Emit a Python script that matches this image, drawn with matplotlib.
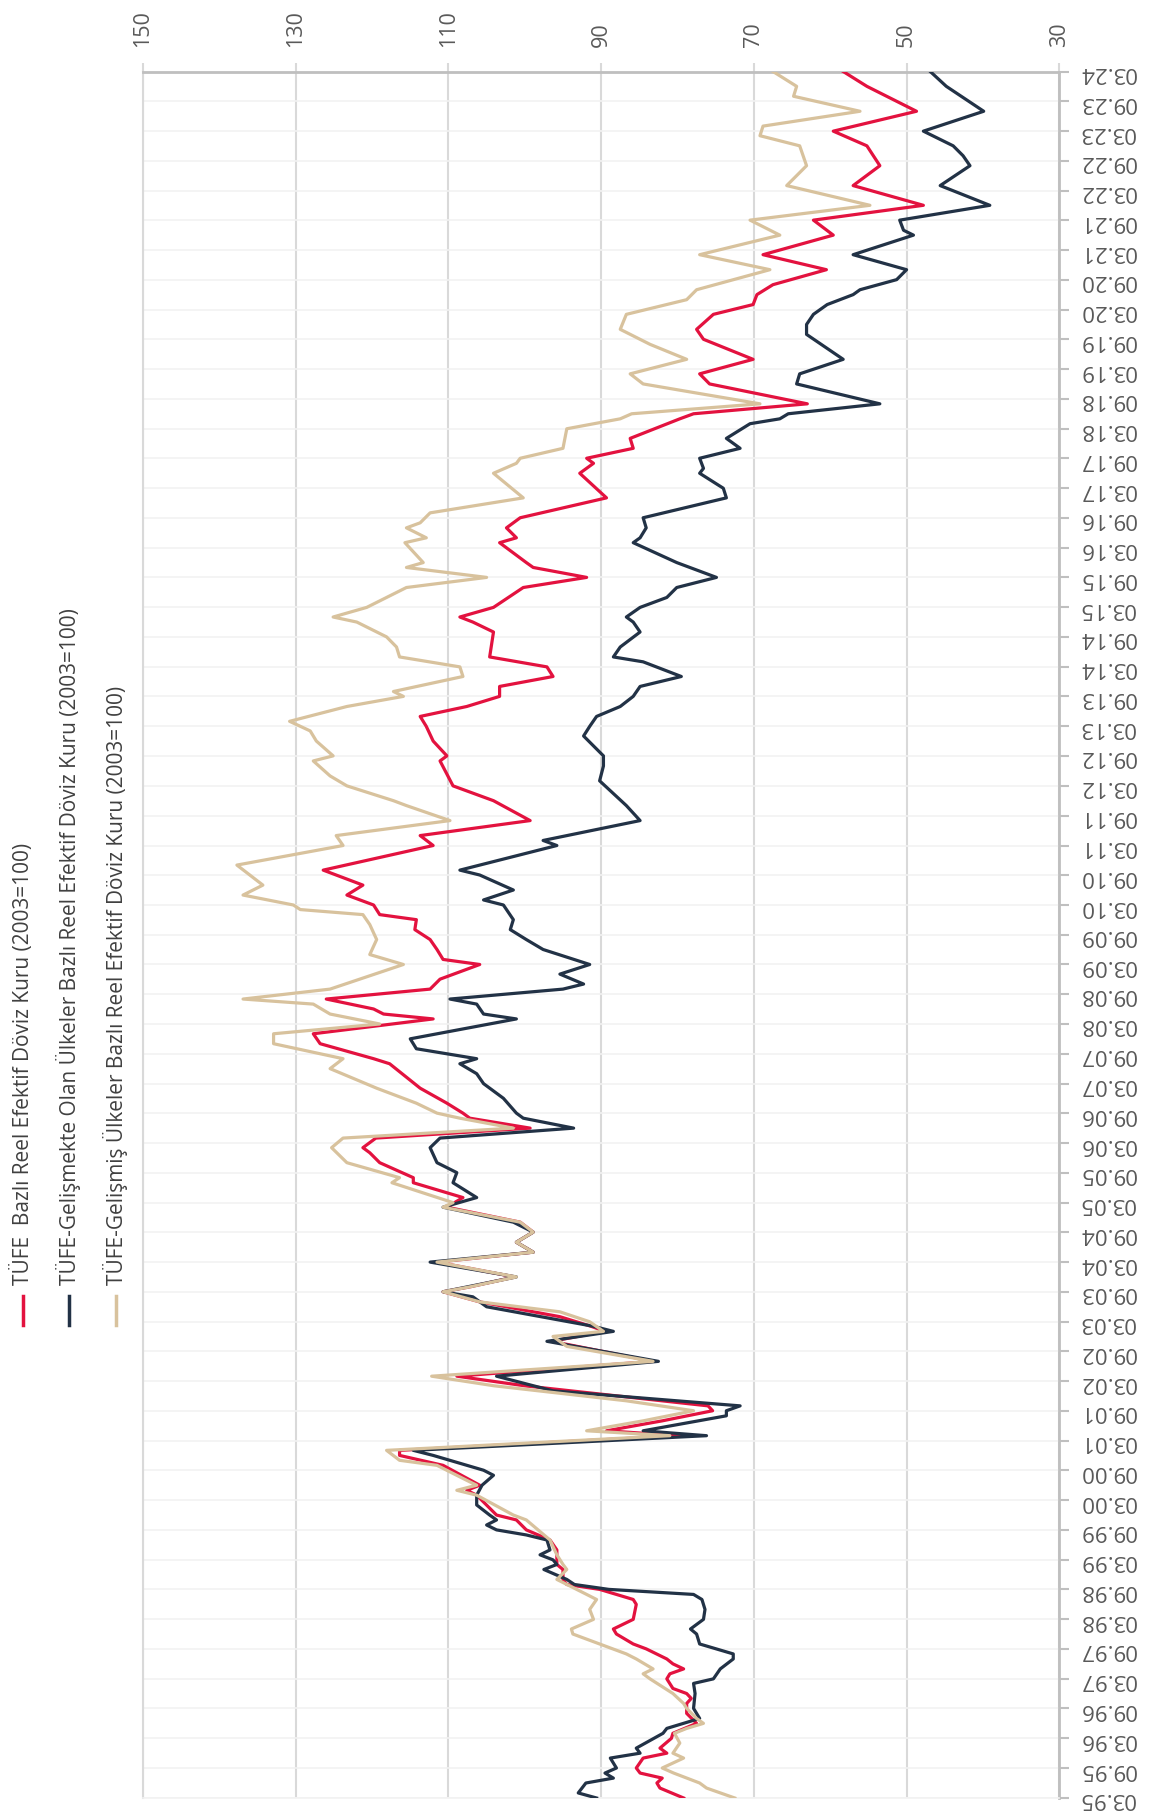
import matplotlib
matplotlib.use('Agg')
import matplotlib.pyplot as plt
from matplotlib.lines import Line2D
import pandas as pd

# Reel efektif döviz kuru endeksleri (2003=100)
tufe_dates = ['1995-03', '1995-05', '1995-06', '1995-07', '1995-08', '1995-09', '1995-11', '1995-12',
              '1996-01', '1996-03', '1996-04', '1996-06', '1996-08', '1996-10', '1996-11', '1996-12',
              '1997-01', '1997-03', '1997-04', '1997-05', '1997-06', '1997-07', '1997-09', '1997-10',
              '1997-12', '1998-01', '1998-03', '1998-06', '1998-07', '1998-09', '1998-10', '1998-11',
              '1999-01', '1999-02', '1999-05', '1999-07', '1999-09', '1999-11', '1999-12', '2000-04',
              '2000-05', '2000-06', '2000-10', '2000-12', '2001-01', '2001-04', '2001-05', '2001-07',
              '2001-09', '2001-10', '2002-02', '2002-04', '2002-07', '2002-11', '2003-01', '2003-02',
              '2003-04', '2003-07', '2003-09', '2003-10', '2003-12', '2004-03', '2004-05', '2004-07',
              '2004-09', '2004-11', '2005-02', '2005-04', '2005-07', '2005-08', '2005-11', '2006-01',
              '2006-02', '2006-04', '2006-06', '2006-08', '2006-09', '2006-11', '2007-02', '2007-07',
              '2007-08', '2007-11', '2008-01', '2008-04', '2008-05', '2008-06', '2008-08', '2008-10',
              '2008-12', '2009-03', '2009-04', '2009-06', '2009-08', '2009-10', '2009-12', '2010-01',
              '2010-03', '2010-05', '2010-07', '2010-10', '2011-03', '2011-05', '2011-08', '2011-12',
              '2012-03', '2012-08', '2012-09', '2012-12', '2013-03', '2013-05', '2013-07', '2013-09',
              '2013-11', '2014-01', '2014-03', '2014-05', '2014-10', '2014-12', '2015-01', '2015-03',
              '2015-07', '2015-09', '2015-11', '2015-12', '2016-04', '2016-05', '2016-07', '2016-08',
              '2016-09', '2017-01', '2017-06', '2017-08', '2017-09', '2017-11', '2018-01', '2018-05',
              '2018-06', '2018-08', '2018-12', '2019-02', '2019-05', '2019-09', '2019-11', '2020-02',
              '2020-04', '2020-06', '2020-08', '2020-11', '2021-02', '2021-06', '2021-09', '2021-12',
              '2022-04', '2022-08', '2022-12', '2023-03', '2023-07', '2023-12', '2024-03']
tufe_vals = [79.2, 82.3, 82.7, 82.0, 84.9, 85.4, 84.5, 81.4,
             82.3, 80.8, 80.6, 77.5, 78.8, 78.8, 78.2, 78.8,
             80.6, 81.4, 81.0, 79.2, 80.6, 81.4, 84.1, 85.8,
             88.0, 88.4, 85.8, 85.4, 85.8, 90.2, 94.5, 95.0,
             95.0, 95.8, 95.8, 96.7, 99.8, 101.1, 103.7, 106.3,
             107.6, 105.9, 110.7, 116.4, 116.4, 79.7, 89.3, 82.0,
             75.4, 76.0, 100.0, 108.9, 83.2, 96.5, 89.5, 91.3,
             95.4, 105.9, 110.7, 107.2, 101.3, 111.5, 98.9, 101.1,
             98.9, 100.6, 110.2, 108.1, 114.6, 114.6, 119.0, 120.3,
             121.2, 119.5, 99.3, 107.2, 108.1, 110.2, 113.7, 117.7,
             119.8, 126.8, 127.7, 112.0, 118.5, 119.8, 126.0, 112.4,
             111.1, 105.9, 110.7, 111.5, 112.4, 114.4, 114.2, 119.0,
             119.8, 123.3, 121.2, 126.4, 112.0, 113.7, 99.3, 104.1,
             109.4, 111.1, 110.2, 112.0, 112.9, 113.7, 107.6, 103.3,
             103.3, 96.3, 97.1, 104.6, 104.1, 106.8, 108.5, 104.1,
             100.2, 91.9, 98.9, 99.8, 103.3, 101.1, 102.4, 101.5,
             100.6, 89.3, 92.8, 91.0, 91.9, 85.8, 86.2, 79.7,
             77.9, 63.0, 75.8, 77.1, 70.1, 76.6, 77.5, 75.3,
             70.1, 69.6, 67.5, 60.5, 68.8, 59.6, 62.2, 47.8,
             57.0, 53.5, 55.2, 59.6, 48.7, 55.2, 58.3]

gelismekte_dates = ['1995-03', '1995-04', '1995-06', '1995-07', '1995-08', '1995-09', '1995-11', '1995-12',
                    '1996-01', '1996-04', '1996-05', '1996-07', '1996-09', '1996-12', '1997-02', '1997-03',
                    '1997-05', '1997-07', '1997-08', '1997-10', '1997-12', '1998-01', '1998-03', '1998-05',
                    '1998-07', '1998-08', '1998-09', '1998-10', '1998-11', '1999-01', '1999-02', '1999-03',
                    '1999-04', '1999-05', '1999-07', '1999-08', '1999-09', '1999-10', '1999-11', '1999-12',
                    '2000-02', '2000-04', '2000-06', '2000-08', '2000-09', '2000-11', '2000-12', '2001-01',
                    '2001-04', '2001-05', '2001-08', '2001-09', '2001-10', '2002-01', '2002-04', '2002-07',
                    '2002-11', '2003-01', '2003-02', '2003-06', '2003-08', '2003-09', '2003-12', '2004-03',
                    '2004-05', '2004-07', '2004-09', '2004-11', '2005-02', '2005-04', '2005-07', '2005-09',
                    '2005-11', '2006-02', '2006-04', '2006-06', '2006-08', '2006-09', '2006-12', '2007-03',
                    '2007-05', '2007-07', '2007-08', '2007-10', '2007-12', '2008-04', '2008-05', '2008-07',
                    '2008-08', '2008-10', '2008-11', '2009-01', '2009-03', '2009-06', '2009-08', '2009-10',
                    '2009-12', '2010-03', '2010-04', '2010-06', '2010-09', '2010-10', '2011-03', '2011-04',
                    '2011-08', '2011-11', '2012-04', '2012-07', '2012-09', '2013-01', '2013-03', '2013-05',
                    '2013-07', '2013-09', '2013-11', '2014-01', '2014-04', '2014-05', '2014-07', '2014-10',
                    '2014-12', '2015-01', '2015-03', '2015-05', '2015-07', '2015-08', '2015-09', '2015-12',
                    '2016-04', '2016-05', '2016-07', '2016-09', '2017-01', '2017-03', '2017-06', '2017-07',
                    '2017-09', '2017-11', '2018-01', '2018-04', '2018-05', '2018-06', '2018-08', '2018-12',
                    '2019-02', '2019-05', '2019-10', '2019-12', '2020-02', '2020-04', '2020-06', '2020-07',
                    '2020-09', '2020-11', '2021-02', '2021-06', '2021-07', '2021-09', '2021-12', '2022-04',
                    '2022-08', '2022-10', '2022-12', '2023-03', '2023-07', '2023-12', '2024-03']
gelismekte_vals = [90.6, 93.0, 92.0, 88.4, 89.5, 88.0, 88.8, 84.9,
                   85.4, 81.9, 81.4, 77.1, 77.9, 77.7, 77.9, 75.3,
                   74.4, 72.7, 72.7, 77.1, 77.5, 78.3, 76.6, 76.4,
                   76.8, 77.9, 89.0, 93.5, 94.5, 97.5, 95.8, 96.3,
                   98.0, 96.7, 97.1, 99.8, 103.7, 105.0, 103.7, 104.6,
                   106.3, 106.3, 105.6, 104.1, 105.4, 109.8, 112.0, 114.6,
                   76.2, 84.5, 73.6, 73.6, 71.8, 96.3, 103.7, 82.5,
                   97.1, 88.4, 91.0, 105.0, 106.8, 110.7, 101.1, 112.4,
                   98.9, 101.1, 98.9, 101.5, 110.7, 106.3, 109.4, 108.9,
                   111.5, 112.4, 111.1, 93.6, 100.2, 101.1, 102.8, 105.4,
                   106.3, 108.5, 106.3, 114.2, 115.0, 101.1, 105.4, 106.3,
                   109.8, 95.0, 92.3, 95.4, 91.5, 97.6, 99.8, 101.9,
                   101.5, 102.8, 105.4, 101.5, 105.9, 108.5, 95.8, 97.6,
                   84.9, 86.7, 90.2, 89.7, 89.7, 92.3, 91.5, 90.6,
                   87.5, 85.8, 84.9, 79.5, 84.5, 88.4, 87.5, 84.9,
                   85.8, 86.7, 84.9, 81.4, 80.1, 77.5, 74.9, 80.1,
                   85.8, 84.9, 84.1, 84.5, 73.6, 74.0, 77.1, 76.6,
                   77.1, 71.8, 73.6, 70.5, 66.6, 65.5, 53.5, 64.4,
                   64.0, 58.3, 63.1, 63.1, 62.2, 60.4, 57.0, 56.1,
                   51.3, 50.0, 57.0, 49.1, 50.4, 50.9, 39.1, 45.6,
                   41.7, 42.6, 43.9, 47.8, 39.9, 44.8, 46.9]

gelismis_dates = ['1995-03', '1995-05', '1995-06', '1995-08', '1995-09', '1995-11', '1995-12', '1996-02',
                  '1996-04', '1996-05', '1996-06', '1996-07', '1996-09', '1996-10', '1996-12', '1997-03',
                  '1997-04', '1997-05', '1997-07', '1997-08', '1997-10', '1997-12', '1998-01', '1998-03',
                  '1998-05', '1998-07', '1998-08', '1998-11', '1999-01', '1999-02', '1999-04', '1999-07',
                  '1999-11', '1999-12', '2000-04', '2000-05', '2000-06', '2000-07', '2000-10', '2000-11',
                  '2001-01', '2001-04', '2001-05', '2001-07', '2001-09', '2001-11', '2002-02', '2002-04',
                  '2002-07', '2002-10', '2002-12', '2003-01', '2003-03', '2003-05', '2003-07', '2003-09',
                  '2003-10', '2003-12', '2004-03', '2004-05', '2004-07', '2004-09', '2004-11', '2005-02',
                  '2005-03', '2005-07', '2005-08', '2005-11', '2006-02', '2006-04', '2006-06', '2006-08',
                  '2006-09', '2006-11', '2007-02', '2007-06', '2007-08', '2007-11', '2008-01', '2008-03',
                  '2008-05', '2008-07', '2008-08', '2008-10', '2009-03', '2009-05', '2009-08', '2009-11',
                  '2010-01', '2010-02', '2010-03', '2010-05', '2010-07', '2010-11', '2011-03', '2011-05',
                  '2011-08', '2011-11', '2011-12', '2012-03', '2012-05', '2012-08', '2012-09', '2012-12',
                  '2013-02', '2013-04', '2013-07', '2013-09', '2013-10', '2014-01', '2014-03', '2014-05',
                  '2014-07', '2014-09', '2014-12', '2015-01', '2015-03', '2015-07', '2015-09', '2015-11',
                  '2015-12', '2016-04', '2016-05', '2016-07', '2016-08', '2016-10', '2017-01', '2017-06',
                  '2017-08', '2017-09', '2017-11', '2018-03', '2018-05', '2018-06', '2018-08', '2018-12',
                  '2019-02', '2019-05', '2019-08', '2019-11', '2020-02', '2020-05', '2020-07', '2020-11',
                  '2021-02', '2021-06', '2021-09', '2021-12', '2022-04', '2022-08', '2022-12', '2023-02',
                  '2023-04', '2023-07', '2023-10', '2023-12', '2024-03']
gelismis_vals = [72.5, 76.2, 77.1, 80.5, 82.0, 79.2, 80.6, 79.7,
                 80.4, 78.8, 76.6, 77.5, 78.8, 79.2, 80.6, 83.6,
                 84.5, 83.2, 85.4, 86.7, 90.2, 93.7, 93.9, 91.0,
                 91.5, 90.6, 91.9, 95.8, 94.5, 95.0, 95.8, 96.7,
                 99.8, 101.5, 106.3, 108.9, 106.3, 107.6, 111.5, 116.4,
                 118.1, 81.0, 91.9, 84.5, 77.9, 86.7, 104.0, 112.2,
                 83.2, 94.5, 96.3, 89.7, 91.5, 95.4, 105.9, 110.7,
                 107.2, 101.1, 111.5, 98.9, 101.1, 98.9, 100.6, 110.7,
                 109.4, 117.4, 116.4, 123.3, 125.3, 123.8, 101.5, 108.5,
                 111.5, 114.2, 119.4, 125.5, 123.8, 132.9, 132.9, 119.0,
                 125.5, 127.7, 136.9, 125.5, 115.9, 120.3, 119.4, 120.3,
                 121.2, 129.4, 130.3, 136.9, 134.3, 137.7, 123.8, 124.7,
                 109.8, 115.5, 117.2, 123.3, 125.5, 127.7, 125.1, 127.3,
                 128.1, 130.8, 123.3, 115.9, 117.2, 108.1, 108.5, 116.4,
                 116.8, 118.1, 122.0, 125.1, 120.7, 115.5, 105.0, 115.5,
                 113.3, 115.7, 112.9, 115.5, 113.7, 112.4, 100.2, 104.1,
                 101.1, 100.6, 95.0, 94.5, 87.5, 86.0, 69.2, 84.5,
                 86.2, 78.8, 83.6, 87.5, 86.7, 78.8, 77.5, 67.9,
                 77.1, 66.6, 70.5, 54.8, 65.7, 63.1, 64.0, 69.2,
                 68.8, 56.1, 64.8, 64.4, 67.5]

series_labels = ['TÜFE  Bazlı Reel Efektif Döviz Kuru (2003=100)',
                 'TÜFE-Gelişmekte Olan Ülkeler Bazlı Reel Efektif Döviz Kuru (2003=100)',
                 'TÜFE-Gelişmiş Ülkeler Bazlı Reel Efektif Döviz Kuru (2003=100)']
series_colors = ['#e3123f', '#223246', '#d8c29d']
value_ticks = [150, 130, 110, 90, 70, 50, 30]

plt.rcParams['font.family'] = ['Open Sans', 'DejaVu Sans']

W, H = 1152, 1815
fig = plt.figure(figsize=(W / 100, H / 100), dpi=100)
# the chart is drawn turned on its side: values run along x, dates up the y axis
ax = fig.add_axes([143 / W, 1 - 1799 / H, (1059.3 - 143) / W, (1799 - 72.5) / H])

all_series = [(tufe_dates, tufe_vals), (gelismekte_dates, gelismekte_vals), (gelismis_dates, gelismis_vals)]
for (dates, vals), color in zip(all_series, series_colors):
    d = pd.to_datetime(dates, format='%Y-%m')
    ax.plot(vals, d, color=color, lw=2.3, solid_joinstyle='round', zorder=3)

# value axis (on top, reversed)
ax.set_xlim(150, 30)
ax.set_xticks(value_ticks)
ax.xaxis.tick_top()
ax.tick_params(axis='x', top=True, bottom=False, length=6.5, width=1.5, color='#d9d9d9',
               labelrotation=90, labelsize=15.5, labelcolor='#595959', pad=12)

# date axis (on the right, labels upside down)
date_ticks = pd.date_range('1995-03-01', '2024-03-01', freq='6MS')
ax.set_ylim(date_ticks[0], date_ticks[-1])
ax.yaxis.tick_right()
ax.set_yticks(date_ticks)
ax.set_yticklabels([t.strftime('%m.%y') for t in date_ticks], rotation=180, va='center')
ax.tick_params(axis='y', right=True, left=False, length=7, width=1.5, color='#bfbfbf',
               labelsize=16, labelcolor='#595959', pad=7)

ax.grid(axis='x', color='#d9d9d9', lw=1.5)
ax.grid(axis='y', color='#f2f2f2', lw=1.2)
ax.set_axisbelow(True)

ax.spines['top'].set_color('#bfbfbf')
ax.spines['top'].set_linewidth(2)
ax.spines['right'].set_color('#bfbfbf')
ax.spines['right'].set_linewidth(2)
ax.spines['left'].set_color('#d9d9d9')
ax.spines['left'].set_linewidth(1.5)
ax.spines['bottom'].set_color('#f2f2f2')
ax.spines['bottom'].set_linewidth(1.2)

# legend, also turned on its side
legend_x = [23, 69, 116]
for lx, label, color in zip(legend_x, series_labels, series_colors):
    fig.add_artist(Line2D([lx / W, lx / W], [1 - 1326 / H, 1 - 1297 / H], color=color, lw=2.5))
    fig.text(lx / W, 1 - 1285 / H, label, rotation=90, ha='center', va='bottom',
             fontsize=15, color='#404040')

fig.savefig('out.png', dpi=100)
